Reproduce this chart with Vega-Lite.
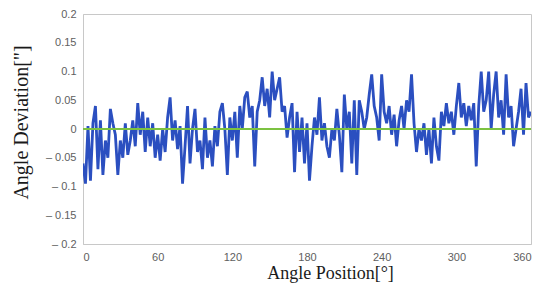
{
  "$schema": "https://vega.github.io/schema/vega-lite/v6.json",
  "autosize": "none",
  "width": 448,
  "height": 230,
  "padding": {"left": 83, "top": 14, "right": 19, "bottom": 52},
  "background": "white",
  "config": {
    "view": {"stroke": "#c8c8c8", "strokeWidth": 1},
    "axis": {"grid": false, "domainColor": "#c8c8c8", "tickColor": "#c8c8c8", "labelColor": "#606060", "labelFont": "Liberation Sans", "labelFontSize": 11, "titleFont": "Liberation Serif", "titleFontSize": 18, "titleFontWeight": "normal", "titleColor": "#1a1a1a"}
  },
  "data": {"values": [
    {"a":0,"d":-0.06},{"a":2,"d":-0.095},{"a":4,"d":0.005},{"a":6,"d":-0.09},{"a":8,"d":0.01},{"a":10,"d":0.04},{"a":12,"d":-0.07},{"a":14,"d":0.015},{"a":16,"d":-0.08},{"a":18,"d":-0.02},
    {"a":20,"d":-0.05},{"a":22,"d":0.035},{"a":24,"d":0.01},{"a":26,"d":-0.01},{"a":28,"d":-0.08},{"a":30,"d":-0.02},{"a":32,"d":-0.05},{"a":34,"d":0.01},{"a":36,"d":-0.045},{"a":38,"d":-0.02},
    {"a":40,"d":0.015},{"a":42,"d":-0.03},{"a":44,"d":0.045},{"a":46,"d":-0.01},{"a":48,"d":0.03},{"a":50,"d":-0.04},{"a":52,"d":0.02},{"a":54,"d":-0.03},{"a":56,"d":0.01},{"a":58,"d":-0.05},
    {"a":60,"d":-0.01},{"a":62,"d":-0.055},{"a":64,"d":0.0},{"a":66,"d":-0.04},{"a":68,"d":0.02},{"a":70,"d":0.055},{"a":72,"d":-0.02},{"a":74,"d":0.015},{"a":76,"d":-0.035},{"a":78,"d":0.005},
    {"a":80,"d":-0.095},{"a":82,"d":-0.03},{"a":84,"d":0.04},{"a":86,"d":-0.06},{"a":88,"d":0.0},{"a":90,"d":0.035},{"a":92,"d":-0.04},{"a":94,"d":-0.02},{"a":96,"d":-0.07},{"a":98,"d":0.02},
    {"a":100,"d":-0.05},{"a":102,"d":-0.02},{"a":104,"d":-0.065},{"a":106,"d":0.005},{"a":108,"d":-0.03},{"a":110,"d":0.03},{"a":112,"d":0.045},{"a":114,"d":0.0},{"a":116,"d":-0.08},{"a":118,"d":0.02},
    {"a":120,"d":-0.02},{"a":122,"d":0.03},{"a":124,"d":-0.05},{"a":126,"d":0.04},{"a":128,"d":0.0},{"a":130,"d":0.055},{"a":132,"d":0.065},{"a":134,"d":0.02},{"a":136,"d":0.04},{"a":138,"d":-0.065},
    {"a":140,"d":0.03},{"a":142,"d":0.05},{"a":144,"d":0.09},{"a":146,"d":0.04},{"a":148,"d":0.07},{"a":150,"d":0.02},{"a":152,"d":0.1},{"a":154,"d":0.05},{"a":156,"d":0.07},{"a":158,"d":0.09},
    {"a":160,"d":0.03},{"a":162,"d":0.04},{"a":164,"d":-0.015},{"a":166,"d":0.02},{"a":168,"d":0.045},{"a":170,"d":-0.075},{"a":172,"d":0.03},{"a":174,"d":-0.04},{"a":176,"d":0.02},{"a":178,"d":-0.06},
    {"a":180,"d":0.01},{"a":182,"d":-0.09},{"a":184,"d":-0.03},{"a":186,"d":0.02},{"a":188,"d":-0.01},{"a":190,"d":0.055},{"a":192,"d":-0.02},{"a":194,"d":0.01},{"a":196,"d":-0.03},{"a":198,"d":-0.05},
    {"a":200,"d":0.0},{"a":202,"d":-0.02},{"a":204,"d":0.035},{"a":206,"d":-0.01},{"a":208,"d":-0.075},{"a":210,"d":0.06},{"a":212,"d":0.0},{"a":214,"d":0.03},{"a":216,"d":-0.06},{"a":218,"d":0.05},
    {"a":220,"d":-0.08},{"a":222,"d":0.05},{"a":224,"d":0.03},{"a":226,"d":0.0},{"a":228,"d":0.02},{"a":230,"d":0.06},{"a":232,"d":0.095},{"a":234,"d":0.04},{"a":236,"d":0.02},{"a":238,"d":-0.02},
    {"a":240,"d":0.095},{"a":242,"d":0.03},{"a":244,"d":0.01},{"a":246,"d":0.04},{"a":248,"d":-0.01},{"a":250,"d":0.025},{"a":252,"d":-0.03},{"a":254,"d":0.015},{"a":256,"d":0.04},{"a":258,"d":0.0},
    {"a":260,"d":0.05},{"a":262,"d":0.03},{"a":264,"d":0.095},{"a":266,"d":0.01},{"a":268,"d":-0.04},{"a":270,"d":0.0},{"a":272,"d":-0.02},{"a":274,"d":0.01},{"a":276,"d":-0.045},{"a":278,"d":0.0},
    {"a":280,"d":-0.06},{"a":282,"d":0.02},{"a":284,"d":-0.03},{"a":286,"d":-0.055},{"a":288,"d":0.03},{"a":290,"d":0.005},{"a":292,"d":0.045},{"a":294,"d":0.01},{"a":296,"d":0.03},{"a":298,"d":-0.01},
    {"a":300,"d":0.04},{"a":302,"d":0.08},{"a":304,"d":0.02},{"a":306,"d":0.045},{"a":308,"d":0.005},{"a":310,"d":0.04},{"a":312,"d":0.015},{"a":314,"d":0.045},{"a":316,"d":-0.065},{"a":318,"d":0.04},
    {"a":320,"d":0.1},{"a":322,"d":0.03},{"a":324,"d":0.05},{"a":326,"d":0.1},{"a":328,"d":0.0},{"a":330,"d":0.06},{"a":332,"d":0.1},{"a":334,"d":0.02},{"a":336,"d":0.05},{"a":338,"d":-0.01},
    {"a":340,"d":0.095},{"a":342,"d":0.02},{"a":344,"d":0.04},{"a":346,"d":-0.03},{"a":348,"d":0.0},{"a":350,"d":0.03},{"a":352,"d":0.07},{"a":354,"d":-0.01},{"a":356,"d":0.08},{"a":358,"d":0.02},
    {"a":360,"d":0.03}
  ]},
  "encoding": {
    "y": {"type": "quantitative", "scale": {"domain": [-0.2, 0.2], "nice": false},
      "axis": {"values": [-0.2, -0.15, -0.1, -0.05, 0, 0.05, 0.1, 0.15, 0.2], "title": "Angle Deviation[\"]", "titleFontSize": 20, "tickSize": 0, "labelPadding": 7, "labelOverlap": false,
        "labelExpr": "datum.value < 0 ? '– ' + format(-datum.value, '.2~f') : format(datum.value, '.2~f')",
        "titleX": -56, "titleY": 108, "titleAngle": -90, "titleBaseline": "alphabetic", "titleAlign": "center"}}
  },
  "layer": [
    {
      "mark": {"type": "line", "color": "#2b4fc0", "strokeWidth": 2.8, "strokeJoin": "miter", "clip": true},
      "encoding": {
        "x": {"field": "a", "type": "quantitative", "scale": {"domain": [0, 360], "nice": false, "zero": false},
          "axis": {"values": [0, 60, 120, 180, 240, 300, 360], "title": "Angle Position[°]", "tickSize": 0, "labelPadding": 7, "labelOverlap": false, "titleX": 247, "titleY": 34, "titleBaseline": "alphabetic", "titleAlign": "center"}},
        "y": {"field": "d"}
      }
    },
    {
      "mark": {"type": "rule", "color": "#7cc242", "strokeWidth": 1.5},
      "encoding": {"y": {"datum": 0}}
    }
  ]
}
